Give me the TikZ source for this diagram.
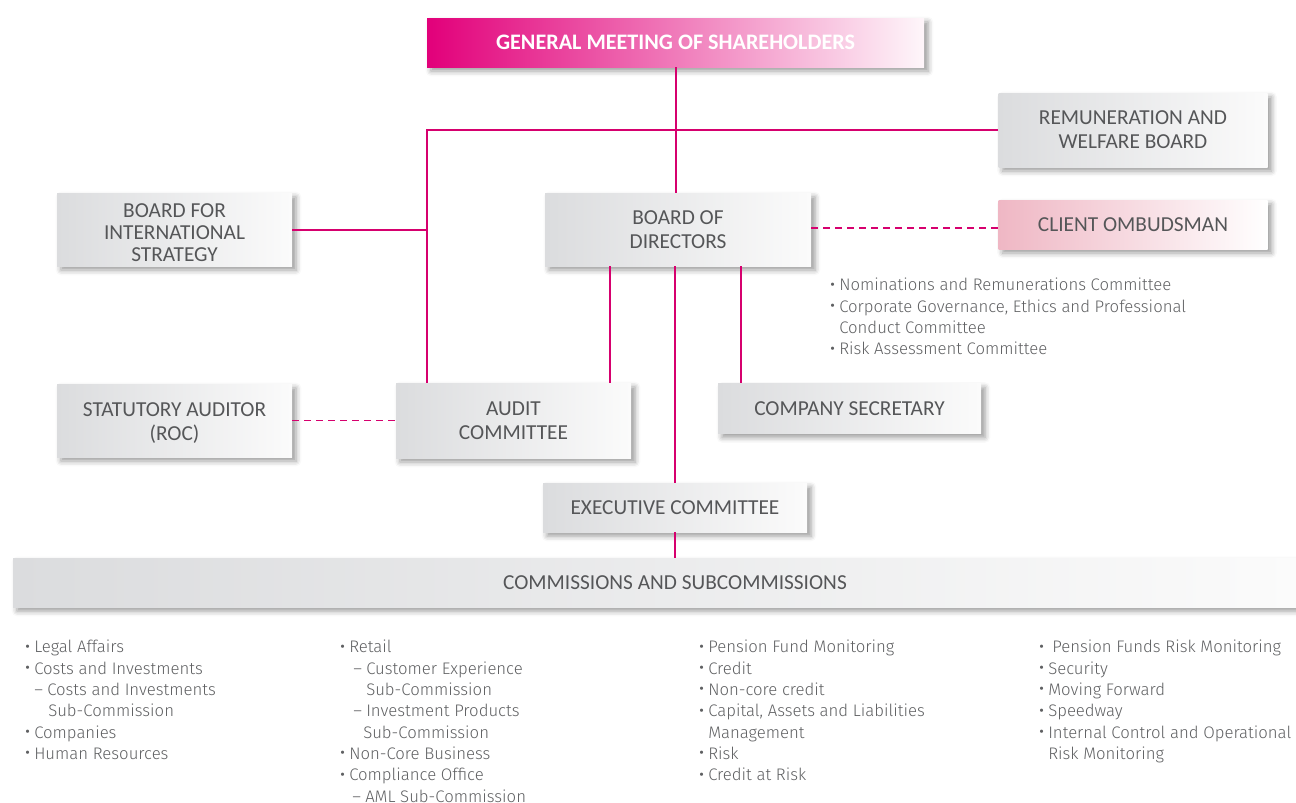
\documentclass[tikz,border=0pt]{standalone}
\usepackage{fontspec}
\setmainfont{Carlito}
\newfontfamily\listfont{Fira Sans Light}
\newfontfamily\bulfont{Fira Sans}
\usetikzlibrary{shadows.blur}

\newlength\pxu
\setlength\pxu{0.75pt}

\definecolor{linkc}{RGB}{214,0,110}
\definecolor{boxL}{RGB}{219,220,222}
\definecolor{boxR}{RGB}{251,251,251}
\definecolor{boxtext}{RGB}{85,86,88}
\definecolor{gmL}{RGB}{226,0,122}
\definecolor{gmR}{RGB}{254,246,250}
\definecolor{coL}{RGB}{239,183,196}
\definecolor{listtext}{RGB}{95,96,98}

% bullet and indented list lines
\newcommand\smallbul{\raisebox{0.1em}{\bulfont\fontsize{10.5}{10.5}\selectfont •}}
\newcommand\bl[1]{\makebox[9\pxu][l]{\smallbul}#1}
\newcommand\dl[2]{\hspace*{#1\pxu}\makebox[13\pxu][l]{–}#2}
\newcommand\cl[2]{\hspace*{#1\pxu}#2}
% centred label block drawn #1 px lower, keeping its size
\newcommand\lowlabel[2]{\raisebox{-#1\pxu}[\height][\depth]{\begin{tabular}{@{}c@{}}#2\end{tabular}}}

\tikzset{
  px/.style 2 args={minimum width=#1*\pxu, minimum height=#2*\pxu},
  orgbox/.style={inner sep=0pt, align=center, text=boxtext,
    font=\fontsize{16}{18}\selectfont,
    left color=boxL, right color=boxR,
    blur shadow={shadow xshift=3pt, shadow yshift=-3pt,
      shadow blur radius=4pt, shadow opacity=40}},
  gmbox/.style={orgbox, left color=gmL, right color=gmR, text=white,
    font=\fontsize{16.6}{18}\selectfont\bfseries},
  pinkbox/.style={orgbox, left color=coL, right color=white},
  link/.style={draw=linkc, line width=1.5pt},
  dashlink/.style={draw=linkc, line width=1.3pt, dash pattern=on 5pt off 4pt},
  listnode/.style={anchor=north west, inner sep=0pt, align=left,
    text=listtext, font=\listfont\fontsize{12.55}{16}\selectfont}
}

\begin{document}
\begin{tikzpicture}[x=0.75pt, y=-0.75pt]
\useasboundingbox (0,0) rectangle (1296,803);

% boxes
\node[gmbox, px={497}{49}] (gm) at (675.5,42.5) {GENERAL MEETING OF SHAREHOLDERS};
\node[orgbox, px={269}{74}] (rem) at (1133,130) {REMUNERATION AND\\WELFARE BOARD};
\node[pinkbox, px={269}{49}] (co) at (1133,224.5) {CLIENT OMBUDSMAN};
\node[orgbox, px={235}{73}, font=\fontsize{16}{16.5}\selectfont] (bis) at (174.5,229.5) {\lowlabel{6}{BOARD FOR\\INTERNATIONAL\\STRATEGY}};
\node[orgbox, px={266}{73}] (bod) at (678,229.5) {BOARD OF\\DIRECTORS};
\node[orgbox, px={235}{73}] (stat) at (174.5,420.5) {\lowlabel{3}{STATUTORY AUDITOR\\(ROC)}};
\node[orgbox, px={235}{75}] (audit) at (513.5,420.5) {AUDIT\\COMMITTEE};
\node[orgbox, px={263}{50}] (cs) at (849.5,408.5) {COMPANY SECRETARY};
\node[orgbox, px={264}{49}] (exec) at (675,507.5) {EXECUTIVE COMMITTEE};
\node[orgbox, px={1283}{49}] (comm) at (654.5,582.5) {\hspace*{30.75pt}COMMISSIONS AND SUBCOMMISSIONS};

% connectors
\coordinate (jn) at (427,130);
\draw[link] (gm.south) -- (gm.south |- bod.north);
\draw[link] (rem.west) -- (jn) -- (jn |- audit.north);
\draw[link] (bis.east) -- (bis.east -| jn);
\draw[dashlink] ([yshift=1pt]bod.east) -- ([yshift=1pt]bod.east -| co.west);
\draw[dashlink] (stat.east) -- (audit.west);
\draw[link] ([xshift=-51pt]bod.south) -- ([xshift=-51pt]bod.south |- audit.north);
\draw[link] ([xshift=47.25pt]bod.south) -- ([xshift=47.25pt]bod.south |- cs.north);
\draw[link] ([xshift=-2.25pt]bod.south) -- ([xshift=-2.25pt]bod.south |- exec.north);
\draw[link] (exec.south) -- (exec.south |- comm.north);

% board committees
\node[listnode] (bodlist) at (830,278) {%
  \bl{Nominations and Remunerations Committee}\\
  \bl{Corporate Governance, Ethics and Professional}\\
  \cl{9}{Conduct Committee}\\
  \bl{Risk Assessment Committee}};

% commissions
\node[listnode] (colA) at (25,640) {%
  \bl{Legal Affairs}\\
  \bl{Costs and Investments}\\
  \dl{9}{Costs and Investments}\\
  \cl{23}{Sub-Commission}\\
  \bl{Companies}\\
  \bl{Human Resources}};
\node[listnode] (colB) at (340,640) {%
  \bl{Retail}\\
  \dl{13}{Customer Experience}\\
  \cl{26}{Sub-Commission}\\
  \dl{13}{Investment Products}\\
  \cl{23}{Sub-Commission}\\
  \bl{Non-Core Business}\\
  \bl{Compliance Office}\\
  \dl{12}{AML Sub-Commission}};
\node[listnode] (colC) at (699,640) {%
  \bl{Pension Fund Monitoring}\\
  \bl{Credit}\\
  \bl{Non-core credit}\\
  \bl{Capital, Assets and Liabilities}\\
  \cl{9}{Management}\\
  \bl{Risk}\\
  \bl{Credit at Risk}};
\node[listnode] (colD) at (1039,640) {%
  \bl{\hspace*{4\pxu}Pension Funds Risk Monitoring}\\
  \bl{Security}\\
  \bl{Moving Forward}\\
  \bl{Speedway}\\
  \bl{Internal Control and Operational}\\
  \cl{9}{Risk Monitoring}};
\end{tikzpicture}
\end{document}
